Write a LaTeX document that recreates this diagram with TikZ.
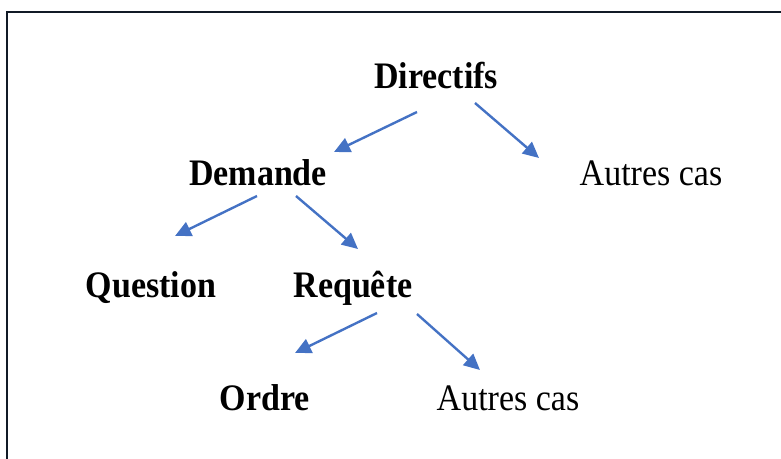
\documentclass[tikz,border=0pt]{standalone}
\usepackage{fontspec}
\setmainfont{Liberation Serif}
\usetikzlibrary{arrows.meta}
\definecolor{arrowblue}{HTML}{4472C4}
\definecolor{framedark}{HTML}{111A26}
\begin{document}
\begin{tikzpicture}[x=1pt,y=-1pt,
  label/.style={anchor=base,inner sep=0pt,
    font=\fontsize{34}{40}\selectfont},
  term/.style={label,font=\fontsize{34}{40}\selectfont\bfseries},
  link/.style={draw=arrowblue,line width=2.4pt,
    -{Triangle[length=16pt,width=15pt]}}]
  \useasboundingbox (0,0) rectangle (781,458);
  % frame, running off the right and bottom edges
  \begin{scope}
    \clip (0,0) rectangle (781,458);
    \draw[framedark,line width=2.8pt] (7,12) rectangle (820,500);
  \end{scope}

  % labels
  \node[term]  (dir) at (436,88)  {\scalebox{1}[1.1]{Directifs}};
  \node[term]  (dem) at (258,185) {\scalebox{1}[1.1]{Demande}};
  \node[label] (ac1) at (651,185) {\scalebox{1}[1.1]{Autres cas}};
  \node[term]  (que) at (151,297) {\scalebox{1}[1.1]{Question}};
  \node[term]  (req) at (353,297) {\scalebox{1}[1.1]{Requête}};
  \node[term]  (ord) at (265,410) {\scalebox{1}[1.1]{Ordre}};
  \node[label] (ac2) at (508,410) {\scalebox{1}[1.1]{Autres cas}};

  % arrow end points
  \coordinate (dirL) at (417,112);  \coordinate (demT) at (334,152);
  \coordinate (dirR) at (475,103);  \coordinate (ac1T) at (539,158);
  \coordinate (demL) at (257,196);  \coordinate (queT) at (175,236);
  \coordinate (demR) at (296,196);  \coordinate (reqT) at (358,249);
  \coordinate (reqL) at (377,313);  \coordinate (ordT) at (295,353);
  \coordinate (reqR) at (417,314);  \coordinate (ac2T) at (480,370);

  \draw[link] (dirL) -- (demT);
  \draw[link] (dirR) -- (ac1T);
  \draw[link] (demL) -- (queT);
  \draw[link] (demR) -- (reqT);
  \draw[link] (reqL) -- (ordT);
  \draw[link] (reqR) -- (ac2T);
\end{tikzpicture}
\end{document}
